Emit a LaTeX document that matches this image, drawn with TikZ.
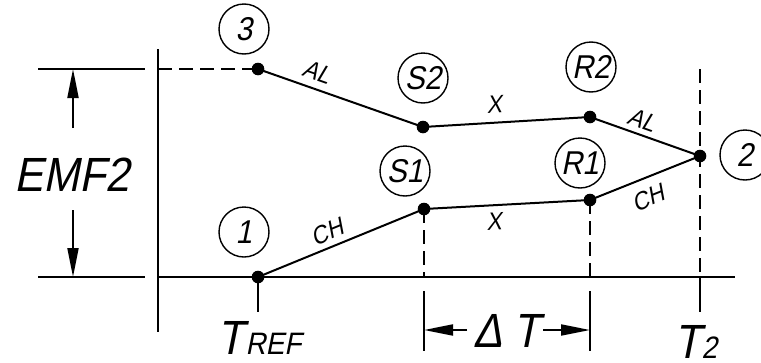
\documentclass[tikz,border=0pt]{standalone}
\usepackage{fontspec}
\setmainfont{Liberation Sans}[FakeSlant=0.2,FakeStretch=0.9]
\usetikzlibrary{arrows.meta}
\begin{document}
\begin{tikzpicture}[x=1pt,y=-1pt,
  line/.style={line width=2pt},
  dsh/.style={line width=1.2pt, dash pattern=on 14pt off 7pt},
  tag/.style={circle, draw, line width=1.4pt, minimum size=50pt, inner sep=0pt, font=\fontsize{33}{33}\selectfont},
  lbl/.style={font=\fontsize{25}{25}\selectfont, inner sep=0pt},
  big/.style={font=\fontsize{48}{48}\selectfont, inner sep=0pt},
  arr/.style={line width=2pt, -{Triangle[length=29pt,width=11pt]}}
]
\useasboundingbox (0,0) rectangle (761,362);

% points
\coordinate (p3) at (258,69);
\coordinate (s2) at (423,127);
\coordinate (r2) at (590,117);
\coordinate (p2) at (700,156);
\coordinate (r1) at (590,200);
\coordinate (s1) at (424,209);
\coordinate (p1) at (258,277);

% axes
\coordinate (ytop) at (158,49);
\coordinate (ybot) at (158,332);
\coordinate (xend) at (735,277);
\coordinate (x0) at (158,277);
\draw[line] (ytop) -- (ybot);
\draw[line] (x0) -- (xend);

% extension lines (left)
\coordinate (e1a) at (38,69);  \coordinate (e1b) at (145,69);
\coordinate (e2a) at (38,277); \coordinate (e2b) at (145,277);
\draw[line] (e1a) -- (e1b);
\draw[line] (e2a) -- (e2b);
\coordinate (a1s) at (73,128); \coordinate (a1e) at (73,69);
\coordinate (a2s) at (73,210); \coordinate (a2e) at (73,277);
\draw[arr] (a1s) -- (a1e);
\draw[arr] (a2s) -- (a2e);
\node[big] (emf) at (72,175) {EMF2};

% dashed lines
\coordinate (d3) at (158,69);
\draw[dsh] (d3) -- (p3);
\coordinate (t2top) at (700,69);
\coordinate (t2ax) at (700,277);
\coordinate (s1ax) at (424,277);
\coordinate (r1ax) at (590,277);
\draw[dsh] (t2top) -- (t2ax);
\draw[dsh] (s1) -- (s1ax);
\draw[dsh] (r1) -- (r1ax);

% ticks
\coordinate (t1b) at (258,312);
\coordinate (t2b) at (700,312);
\draw[line] (p1) -- (t1b);
\draw[line] (t2ax) -- (t2b);

% main lines
\draw[line] (p3) -- (s2) -- (r2) -- (p2);
\draw[line] (p1) -- (s1) -- (r1) -- (p2);

% dots
\foreach \p in {p1,p2,p3,s1,s2,r1,r2} \fill (\p) circle (6.3pt);

% line labels
\node[lbl, rotate=-19.4] (al1) at (317,72) {AL};
\node[lbl, rotate=3.4] (x1) at (494,104) {X};
\node[lbl, rotate=-19.5] (al2) at (642,120) {AL};
\node[lbl, rotate=22.3] (ch1) at (327,232) {CH};
\node[lbl, rotate=3] (x2) at (494,222) {X};
\node[lbl, rotate=21.8] (ch2) at (648,198) {CH};

% circle tags
\node[tag] (c3) at (244,29) {3};
\node[tag] (cs2) at (423,78) {S2};
\node[tag] (cr2) at (591,67) {R2};
\node[tag] (c2) at (745,155) {2};
\node[tag] (cs1) at (405,171) {S1};
\node[tag] (cr1) at (580,163) {R1};
\node[tag] (c1) at (244,232) {1};

% Delta T dimension
\coordinate (dl1) at (424,291); \coordinate (dl2) at (424,351);
\coordinate (dr1) at (590,291); \coordinate (dr2) at (590,351);
\draw[line] (dl1) -- (dl2);
\draw[line] (dr1) -- (dr2);
\coordinate (al) at (467,330); \coordinate (alt) at (424,330);
\coordinate (ar) at (543,330); \coordinate (art) at (590,330);
\draw[arr] (al) -- (alt);
\draw[arr] (ar) -- (art);
\node[big, anchor=base] (delta) at (488,347) {Δ};
\node[big, anchor=base] (dt) at (527,347) {T};

% T labels
\node[big, anchor=base west] (tref) at (217,354) {T\hspace{2pt}{\fontsize{31}{31}\selectfont REF}};
\node[big, anchor=base west] (t2) at (674,358) {T\hspace{1pt}{\fontsize{31}{31}\selectfont 2}};
\end{tikzpicture}
\end{document}
